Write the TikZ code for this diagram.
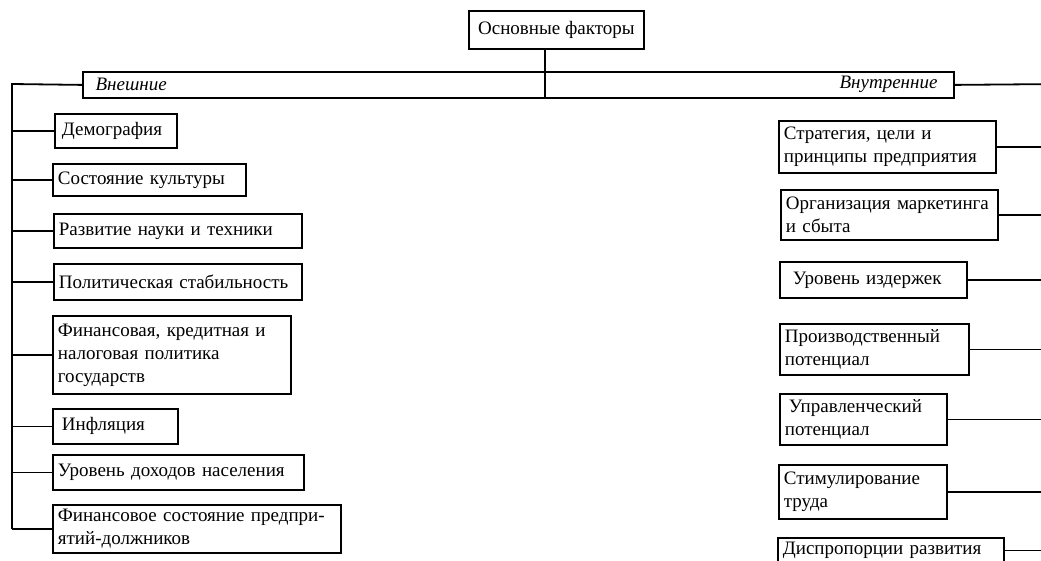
\documentclass[tikz,border=0pt]{standalone}
\usepackage{fontspec}
\setmainfont{Liberation Serif}
\begin{document}
\begin{tikzpicture}[x=1pt,y=-1pt,
  box/.style={draw,line width=1.8pt,anchor=north west,inner xsep=5pt,inner ysep=0pt,align=left,font=\fontsize{19}{23}\selectfont},
  kind/.style={font=\fontsize{19}{22}\selectfont\itshape},
  link/.style={line width=1.8pt}]
\useasboundingbox (0,0) rectangle (1041,560);
\clip (0,0) rectangle (1041,560);

\node[box,align=center,minimum width=175pt,minimum height=38pt] (main) at (468,10) {Основные факторы};
\node[draw,line width=1.8pt,anchor=north west,inner sep=0pt,minimum width=871pt,minimum height=26pt] (bar) at (82,71) {};
\node[kind,anchor=west] (ext) at (92,84) {Внешние};
\node[kind,anchor=east] (int) at (941,84) {Внутренние};
\coordinate (split) at (545,97);
\coordinate (ltrunk) at (12,84);
\coordinate (rtrunk) at (1060,84);

% external
\node[box,text width=112pt,minimum height=34pt] (demo) at (54,113) {\hspace{2pt}Демография};
\node[box,text width=183pt,minimum height=32pt] (kult) at (52,163) {Состояние культуры};
\node[box,text width=238pt,minimum height=34pt] (nauka) at (53,213) {Развитие науки и техники};
\node[box,text width=238pt,minimum height=36pt] (polit) at (53,263) {Политическая стабильность};
\node[box,text width=228pt,minimum height=78pt] (fin) at (52,315) {Финансовая, кредитная и\\налоговая политика\\государств};
\node[box,text width=115pt,minimum height=35pt] (infl) at (52,408) {\hspace{4pt}Инфляция};
\node[box,text width=241pt,minimum height=35pt] (dohod) at (52,454) {Уровень доходов населения};
\node[box,text width=278pt,minimum height=48pt] (dolzh) at (52,504) {Финансовое состояние предпри-\\ятий-должников};

% internal
\node[box,text width=207pt,minimum height=52pt] (strat) at (778,120) {Стратегия, цели и\\принципы предприятия};
\node[box,text width=207pt,minimum height=50pt] (mark) at (780,189) {Организация маркетинга\\и сбыта};
\node[box,text width=177pt,minimum height=36pt] (izd) at (779,261) {\hspace{8pt}Уровень издержек};
\node[box,text width=179pt,minimum height=51pt] (proizv) at (779,323) {Производственный\\потенциал};
\node[box,text width=157pt,minimum height=51pt] (upr) at (779,393) {\hspace{4pt}Управленческий\\потенциал};
\node[box,text width=158pt,minimum height=54pt] (stim) at (778,464) {Стимулирование\\труда};
\node[box,text width=216pt,minimum height=25pt] (disp) at (777,537) {Диспропорции развития};

\draw[link] (main.south -| split) -- (split);
\draw[link] (bar.west) -- (ltrunk) -- (ltrunk |- dolzh.west);
\draw[link] (bar.east) -- (rtrunk);

\draw[link] (demo.west) -- (demo.west -| ltrunk);
\draw[link] (kult.west) -- (kult.west -| ltrunk);
\draw[link] (nauka.west) -- (nauka.west -| ltrunk);
\draw[link] (polit.west) -- (polit.west -| ltrunk);
\draw[link] (fin.west) -- (fin.west -| ltrunk);
\draw[link] (infl.west) -- (infl.west -| ltrunk);
\draw[link] (dohod.west) -- (dohod.west -| ltrunk);
\draw[link] (dolzh.west) -- (dolzh.west -| ltrunk);

\draw[link] (strat.east) -- (strat.east -| rtrunk);
\draw[link] (mark.east) -- (mark.east -| rtrunk);
\draw[link] (izd.east) -- (izd.east -| rtrunk);
\draw[link] (proizv.east) -- (proizv.east -| rtrunk);
\draw[link] (upr.east) -- (upr.east -| rtrunk);
\draw[link] (stim.east) -- (stim.east -| rtrunk);
\draw[link] (disp.east) -- (disp.east -| rtrunk);
\end{tikzpicture}
\end{document}
